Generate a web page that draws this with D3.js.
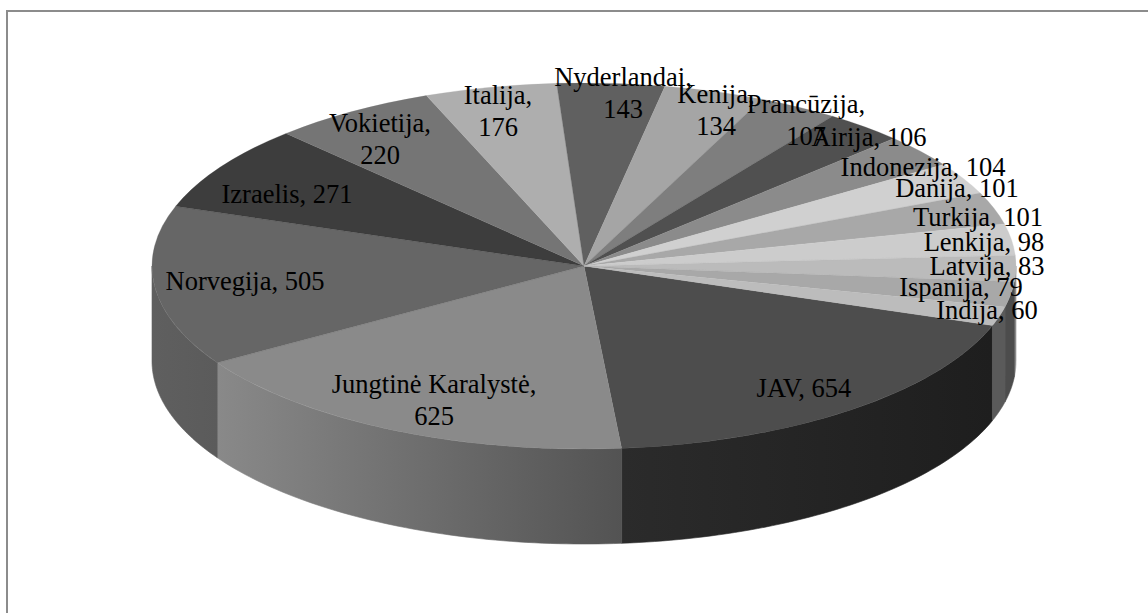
<!DOCTYPE html>
<html><head><meta charset="utf-8">
<script src="https://cdn.jsdelivr.net/npm/d3@7/dist/d3.min.js"></script>
<style>html,body{margin:0;padding:0;background:#fff;overflow:hidden}svg{display:block}text{font-family:"Liberation Serif",serif;font-size:26.5px;fill:#000}</style>
</head><body><script>
const categories=["JAV","Jungtinė Karalystė","Norvegija","Izraelis","Vokietija","Italija","Nyderlandai","Kenija","Prancūzija","Airija","Indonezija","Danija","Turkija","Lenkija","Latvija","Ispanija","Indija"];
const values=[654,625,505,271,220,176,143,134,107,106,104,101,101,98,83,79,60];
const topColors=["#4d4d4d","#8a8a8a","#666666","#3d3d3d","#757575","#aeaeae","#606060","#a5a5a5","#7e7e7e","#505050","#8b8b8b","#d0d0d0","#a8a8a8","#cccccc","#bbbbbb","#a8a8a8","#bcbcbc"];
const sideFrom=["#2b2b2b","#898989","#5f5f5f","#333","#555","#888","#444","#777","#555","#333","#666","#999","#777","#999","#8a8a8a","#4c4c4c","#5a5a5a"];
const sideTo=["#1e1e1e","#535353","#5b5b5b","#333","#555","#888","#444","#777","#555","#333","#666","#999","#777","#999","#8a8a8a","#4c4c4c","#5a5a5a"];
// label layout: centre x, centre y of first line
const labelX=[804,434,245,287,380,498,623,716,806,869,923,957,978,984,987,961,987];
const labelY=[389,385,282,195,124,96,78,95,105,138,168,189,218,243,267,288,311];
const wrapped=[false,true,false,false,true,true,true,true,true,false,false,false,false,false,false,false,false];

const W=1148,H=613,cx=584,cy=266,rx=432,ry=183,depth=95,lineGap=32;
const svg=d3.select("body").append("svg").attr("width",W).attr("height",H);
svg.append("rect").attr("x",7).attr("y",11).attr("width",W+20).attr("height",H+20).attr("fill","#fff").attr("stroke","#8c8c8c").attr("stroke-width",2);

const start=109*Math.PI/180;
const pie=d3.pie().sort(null).startAngle(start).endAngle(start+2*Math.PI);
const arcs=pie(values).map((d,i)=>({...d,i}));
const px=a=>cx+rx*Math.sin(a), py=a=>cy-ry*Math.cos(a);
const defs=svg.append("defs");

// side walls: only the front half (angles between 90 and 270 deg, mod 360)
const sides=[];
arcs.forEach(d=>{
  [[Math.PI/2,3*Math.PI/2],[Math.PI/2+2*Math.PI,3*Math.PI/2+2*Math.PI]].forEach(([lo,hi])=>{
    const a0=Math.max(d.startAngle,lo),a1=Math.min(d.endAngle,hi);
    if(a1>a0) sides.push({i:d.i,a0,a1});
  });
});
const line=d3.line();
sides.forEach((s,k)=>{
  const id="side"+k;
  const g=defs.append("linearGradient").attr("id",id).attr("gradientUnits","userSpaceOnUse")
    .attr("x1",px(s.a1)).attr("y1",0).attr("x2",px(s.a0)).attr("y2",0);
  g.append("stop").attr("offset",0).attr("stop-color",sideFrom[s.i]);
  g.append("stop").attr("offset",1).attr("stop-color",sideTo[s.i]);
  const angles=d3.range(0,61).map(t=>s.a0+(s.a1-s.a0)*t/60);
  const pts=angles.map(a=>[px(a),py(a)]).concat(angles.slice().reverse().map(a=>[px(a),py(a)+depth]));
  svg.append("path").attr("d",line(pts)+"Z").attr("fill",`url(#${id})`).attr("stroke",`url(#${id})`).attr("stroke-width",0.6);
});

// top faces
const arc=d3.arc().innerRadius(0).outerRadius(rx);
svg.append("g").attr("transform",`translate(${cx},${cy}) scale(1,${ry/rx})`)
  .selectAll("path").data(arcs).join("path")
  .attr("d",arc).attr("fill",d=>topColors[d.i]).attr("stroke",d=>topColors[d.i]).attr("stroke-width",0.4);

// labels
const lab=svg.append("g").attr("text-anchor","middle");
categories.forEach((c,i)=>{
  const t=lab.append("text").attr("x",labelX[i]).attr("y",labelY[i]+8);
  if(wrapped[i]){
    t.append("tspan").attr("x",labelX[i]).text(c+",");
    t.append("tspan").attr("x",labelX[i]).attr("dy",lineGap).text(values[i]);
  } else t.text(c+", "+values[i]);
});
</script></body></html>
